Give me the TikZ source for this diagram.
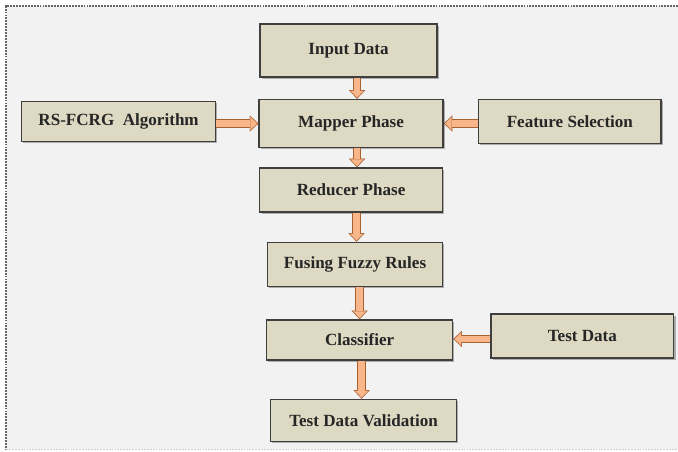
\documentclass[tikz,border=0pt]{standalone}
\usepackage{fontspec}
\setmainfont{Liberation Serif}
\usepackage{xcolor}
\usetikzlibrary{positioning,shadows,arrows.meta}

\definecolor{boxfill}{HTML}{DDD9C3}
\definecolor{boxline}{HTML}{3F3F3F}
\definecolor{arrowfill}{HTML}{F8B68A}
\definecolor{arrowline}{HTML}{A8612F}
\definecolor{canvas}{HTML}{F2F2F2}

\begin{document}
\begin{tikzpicture}[
        phase/.style={rectangle, draw=boxline, fill=boxfill, line width=1.1pt, minimum width=137pt, minimum height=33pt, text=black!85, font=\fontsize{12.8}{14}\selectfont\bfseries, drop shadow={shadow xshift=1.4pt, shadow yshift=-1.4pt, opacity=0.6}},
        flow/.style={draw=arrowfill, line width=4.8pt, shorten >=0.9pt, -{Triangle[width=9.6pt,length=5pt,line width=0.01pt]},
            preaction={draw=arrowline, line width=6.2pt, shorten >=0pt, -{Triangle[width=12pt,length=6.4pt,line width=0.01pt]}}},
        frame/.style={draw=black!60, line width=1.2pt, dash pattern=on 1.4pt off 0.8pt}
    ]

    % Canvas
    \useasboundingbox[fill=white] (0,0) rectangle (508.5pt,-338.25pt);
    \fill[canvas] (4.5pt,-4.5pt) rectangle (508.5pt,-337pt);
    \draw[frame] (508.5pt,-4.5pt) -- (4.5pt,-4.5pt) -- (4.5pt,-337pt);
    \draw[frame, draw=black!20] (4.5pt,-337pt) -- (508.5pt,-337pt);

    % Main chain
    \node [phase, minimum width=132.75pt, minimum height=39.75pt] (input) at (261.4pt,-37.9pt) {Input Data};
    \node [phase, below=15.75pt of input, xshift=1.9pt, minimum width=138pt, minimum height=36pt] (mapper) {Mapper Phase};
    \node [phase, below=14.25pt of mapper] (reducer) {Reducer Phase};
    \node [phase, below=21.75pt of reducer, xshift=3pt, minimum width=131.25pt] (fusing) {Fusing Fuzzy Rules};
    \node [phase, below=24pt of fusing, xshift=3.4pt, minimum width=139.5pt, minimum height=30pt] (classifier) {Classifier};
    \node [phase, below=28.5pt of classifier, xshift=3pt, minimum width=139.5pt, minimum height=31.5pt] (validation) {Test Data Validation};

    % Side inputs
    \node [phase, left=31.5pt of mapper, yshift=1.5pt, minimum width=145.5pt, minimum height=30pt] (rsfcrg) {RS-FCRG\ \ Algorithm};
    \node [phase, right=25.5pt of mapper, yshift=1.5pt] (feature) {Feature Selection};
    \node [phase, right=27.75pt of classifier, yshift=3pt] (testdata) {Test Data};

    % Main flow arrows
    \path [flow] ([xshift=6.4pt]input.south) -- ([xshift=6.4pt]input.south |- mapper.north);
    \path [flow] ([xshift=4.5pt]mapper.south) -- ([xshift=4.5pt]mapper.south |- reducer.north);
    \path [flow] ([xshift=4.1pt]reducer.south) -- ([xshift=4.1pt]reducer.south |- fusing.north);
    \path [flow] ([xshift=3.4pt]fusing.south) -- ([xshift=3.4pt]fusing.south |- classifier.north);
    \path [flow] ([xshift=1.5pt]classifier.south) -- ([xshift=1.5pt]classifier.south |- validation.north);

    % Side arrows
    \path [flow] ([yshift=-1.5pt]rsfcrg.east) -- ([yshift=-1.5pt]rsfcrg.east -| mapper.west);
    \path [flow] ([yshift=-1.5pt]feature.west) -- ([yshift=-1.5pt]feature.west -| mapper.east);
    \path [flow] ([yshift=-2.25pt]testdata.west) -- ([yshift=-2.25pt]testdata.west -| classifier.east);

\end{tikzpicture}
\end{document}
